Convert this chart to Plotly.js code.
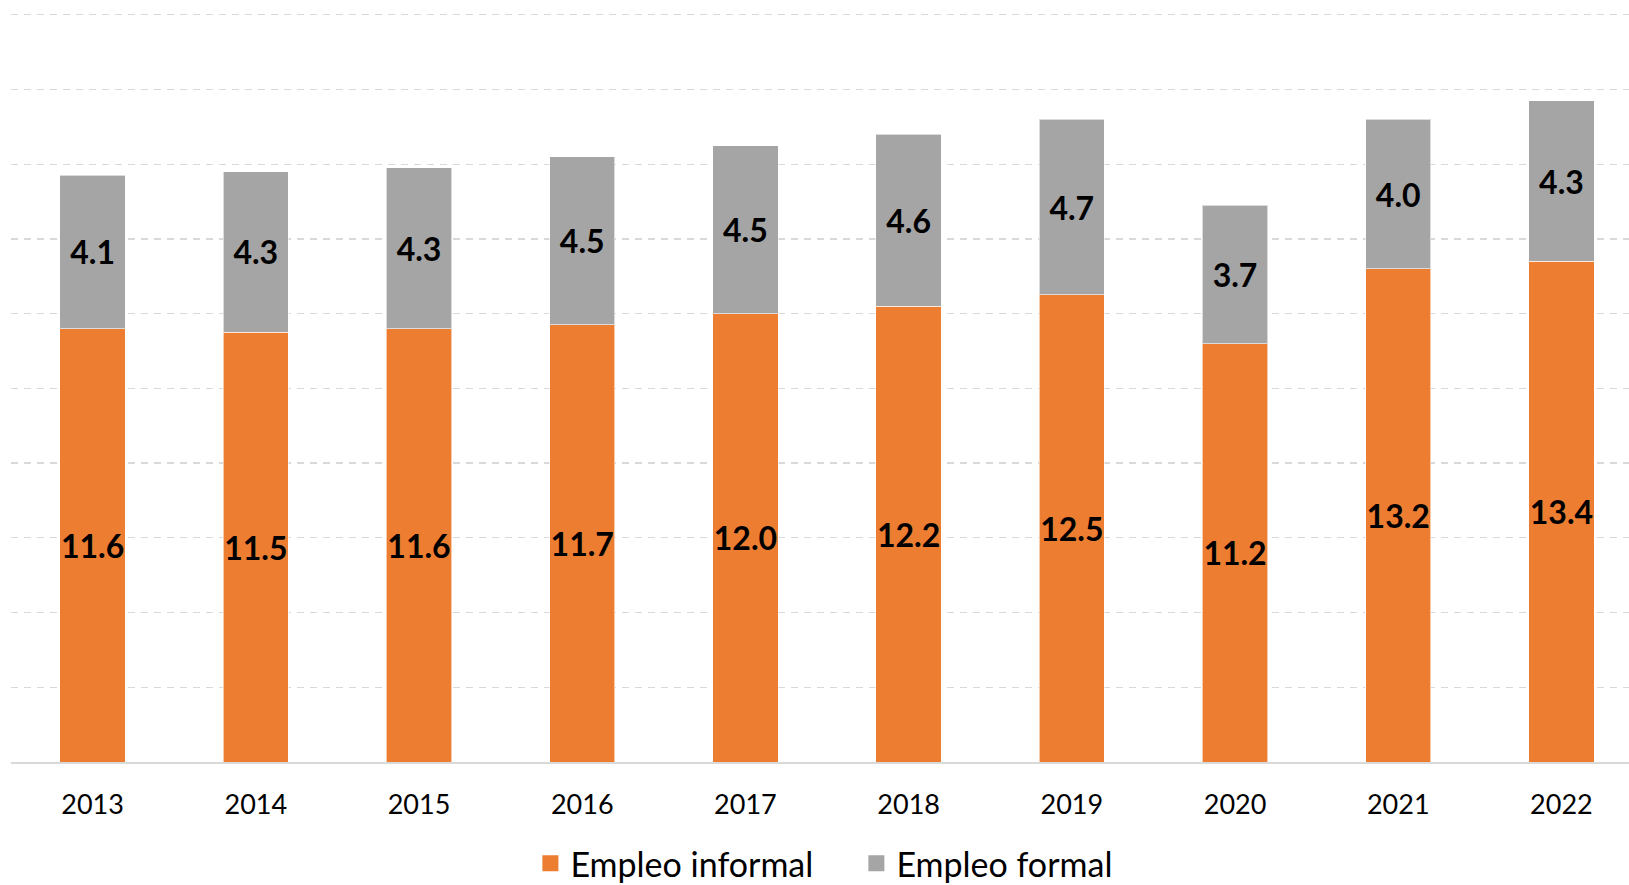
<!DOCTYPE html>
<html>
<head>
<meta charset="utf-8">
<script src="https://cdn.plot.ly/plotly-3.0.1.min.js"></script>
<style>
html,body{margin:0;padding:0;overflow:hidden;background:#fff;}
#chart{width:1629px;height:885px;}
</style>
</head>
<body>
<div id="chart"></div>
<script>
var years = ["2013","2014","2015","2016","2017","2018","2019","2020","2021","2022"];
var informal = [11.6, 11.5, 11.6, 11.7, 12.0, 12.2, 12.5, 11.2, 13.2, 13.4];
var formal = [4.1, 4.3, 4.3, 4.5, 4.5, 4.6, 4.7, 3.7, 4.0, 4.3];
var seriesNames = ["Empleo informal", "Empleo formal"];
var colors = ["#ED7D31", "#A5A5A5"];

var FONT = "Lato, 'Open Sans', sans-serif";

function barTrace(name, vals, color) {
  return {
    type: "bar",
    name: name,
    x: years,
    y: vals,
    showlegend: false,
    legendgroup: name,
    marker: {color: color, line: {color: "rgba(255,255,255,0.6)", width: 1}},
    texttemplate: "<b>%{y:.1f}</b>",
    textposition: "inside",
    insidetextanchor: "middle",
    textangle: 0,
    constraintext: "none",
    textfont: {family: FONT, size: 32, color: "#000000"},
    hoverinfo: "x+y+name"
  };
}

function legendTrace(name, color) {
  return {
    type: "scatter",
    mode: "markers",
    name: name,
    legendgroup: name,
    x: [null],
    y: [null],
    marker: {symbol: "square", size: 16, color: color},
    hoverinfo: "skip"
  };
}

var data = [
  barTrace(seriesNames[0], informal, colors[0]),
  barTrace(seriesNames[1], formal, colors[1]),
  legendTrace(seriesNames[0], colors[0]),
  legendTrace(seriesNames[1], colors[1])
];

var layout = {
  width: 1629,
  height: 885,
  margin: {l: 11, r: 0, t: 11, b: 123, pad: 0},
  paper_bgcolor: "#ffffff",
  plot_bgcolor: "#ffffff",
  barmode: "stack",
  bargap: 0.6,
  showlegend: true,
  font: {family: FONT, color: "#000000"},
  xaxis: {
    type: "category",
    range: [-0.5, 9.414],
    showgrid: false,
    showline: true,
    linecolor: "#D9D9D9",
    linewidth: 1.5,
    ticks: "",
    tickfont: {family: FONT, size: 27, color: "#000000"},
    ticklabelstandoff: 18,
    automargin: false,
    fixedrange: true
  },
  yaxis: {
    range: [0, 20.1],
    dtick: 2,
    tick0: 0,
    showgrid: true,
    gridcolor: "#D9D9D9",
    gridwidth: 1.3,
    griddash: "7px,6px",
    zeroline: false,
    showticklabels: false,
    ticks: "",
    automargin: false,
    fixedrange: true
  },
  legend: {
    orientation: "h",
    xref: "paper",
    x: 0.321,
    xanchor: "left",
    yref: "container",
    y: 0.024,
    yanchor: "middle",
    entrywidth: 281,
    entrywidthmode: "pixels",
    font: {family: FONT, size: 34, color: "#000000"},
    traceorder: "normal",
    itemclick: false,
    itemdoubleclick: false
  }
};

Plotly.newPlot("chart", data, layout, {displayModeBar: false, staticPlot: true});
</script>
</body>
</html>
